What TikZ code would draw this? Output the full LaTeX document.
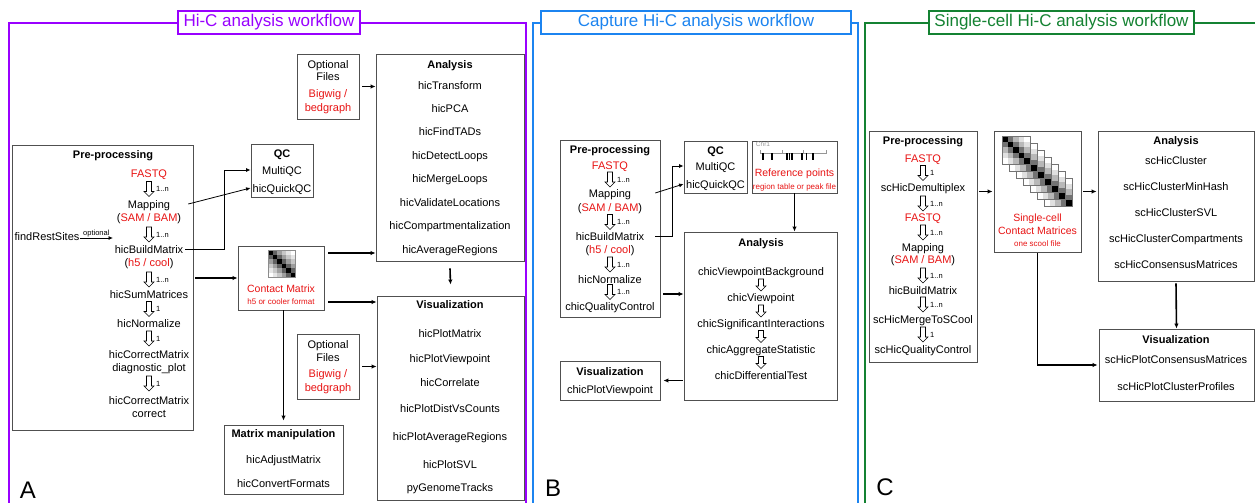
\documentclass[tikz,border=0pt]{standalone}
\usepackage{fontspec}
\setmainfont{Liberation Sans}
\usepackage{tikz}
\usetikzlibrary{arrows.meta,positioning,fit,calc}
\definecolor{hicpurple}{RGB}{153,0,255}
\definecolor{capblue}{RGB}{28,132,240}
\definecolor{scgreen}{RGB}{20,130,50}
\definecolor{fileRed}{RGB}{232,20,20}
\definecolor{boxgray}{RGB}{80,80,80}
\definecolor{chrgray}{RGB}{150,150,150}

\newcommand{\fsz}[1]{\fontsize{#1}{#1}\selectfont}

\begin{document}
\begin{tikzpicture}[x=1pt, y=-1pt,
  txt/.style={font=\fsz{11}, inner sep=0pt, text height=8pt, text depth=0pt},
  hd/.style={txt, font=\fsz{11}\bfseries},
  ftxt/.style={txt, text=fileRed},
  small/.style={font=\fsz{8}, inner sep=0pt, text height=5.8pt, text depth=0pt, text=fileRed},
  cnt/.style={font=\fsz{7.5}, inner sep=0pt, text height=5.4pt, text depth=0pt},
  box/.style={draw=boxgray, line width=0.9pt, inner sep=0pt},
  title/.style={draw=#1, text=#1, fill=white, line width=1.6pt, font=\fsz{17},
                inner sep=0pt, minimum height=23pt},
  frame/.style={line width=1.6pt},
  % hollow step arrow, #1 = half of its length
  pics/hollow/.style={code={
    \draw[fill=white, line width=0.6pt] (-2.5,-#1) -- (2.5,-#1) -- (2.5,#1-5) -- (5,#1-5)
      -- (0,#1) -- (-5,#1-5) -- (-2.5,#1-5) -- cycle;}},
  conn/.style={-{Latex[length=4.5pt,width=4pt]}, line width=0.8pt},
  heavy/.style={-{Latex[length=5pt,width=4.5pt]}, line width=1.6pt},
  panel/.style={font=\fsz{24}, inner sep=0pt}
]
\fill[white] (0,0) rectangle (1255,503);
\useasboundingbox (0,0) rectangle (1255,503);

%% ---------------- A: Hi-C ----------------
\draw[frame, hicpurple] (9,506) -- (9,23) -- (526,23) -- (526,506);
\node[title=hicpurple, minimum width=182pt] (titleA) at (269,22.5) {Hi-C analysis workflow};

\node[box, fit={(12,145) (193,430)}] (preA) {};
\node[hd] (preAh) at (113,154) {Pre-processing};
\node[ftxt] (fqA) at (149,173) {FASTQ};
\node[txt] (mapA) at (149,204) {Mapping};
\node[txt] (samA) at (149,217) {(\textcolor{fileRed}{SAM / BAM})};
\node[txt] (bmA) at (149,249) {hicBuildMatrix};
\node[txt] (coolA) at (149,262) {(\textcolor{fileRed}{h5 / cool})};
\node[txt] (sumA) at (149,294) {hicSumMatrices};
\node[txt] (normA) at (149,323) {hicNormalize};
\node[txt] (cmdA) at (149,354) {hicCorrectMatrix};
\node[txt] (diagA) at (149,367) {diagnostic\_plot};
\node[txt] (cmcA) at (149,400) {hicCorrectMatrix};
\node[txt] (corrA) at (149,413) {correct};
\foreach \y/\lab [count=\i] in {189/1..n,234.5/1..n,279.5/1..n,309/1,338.5/1,383.5/1} {
  \pic at (149,\y) {hollow=7.5};
  \node[cnt, anchor=west] (nA\i) at (156,\y) {\lab};
}
\node[txt] (frs) at (47,236) {findRestSites};
\coordinate (frsEnd) at (113,238);
\draw[conn] (frs.east |- frsEnd) -- node[cnt, above=2pt] (optlbl) {optional} (frsEnd);

% QC
\node[box, fit={(251,144) (313,197)}] (qcA) {};
\node[hd] (qcAh) at (282,153) {QC};
\node[txt] (multA) at (282,170) {MultiQC};
\node[txt] (quickA) at (282,188) {hicQuickQC};
\draw[conn] ([xshift=18pt]mapA.east) -- (qcA.west |- quickA);
\draw[conn] ([xshift=2pt]bmA.east) -| ([xshift=-26pt]qcA.west |- multA) -- (qcA.west |- multA);

% contact matrix
\node[box, fit={(238,246) (324,310)}] (cmA) {};
\begin{scope}[shift={(268,250)}]
  \foreach \i in {0,...,5} \foreach \j in {0,...,5} {
    \pgfmathtruncatemacro\d{abs(\i-\j)}
    \pgfmathtruncatemacro\s{{100,62,38,22,10,0}[\d]}
    \fill[black!\s] (\i*4.5,\j*4.5) rectangle ++(4.5,4.5);
  }
  \draw[black!45, line width=0.4pt] (0,0) rectangle (27,27);
\end{scope}
\node[txt, font=\fsz{10.5}, text=fileRed] (cmAt) at (281,288) {Contact Matrix};
\node[small] (cmAf) at (281,302) {h5 or cooler format};

% analysis and visualization
\node[box, fit={(376,54) (524,261)}] (anaA) {};
\node[hd] (anaAh) at (450,64) {Analysis};
\foreach \t/\y [count=\i] in {hicTransform/85,hicPCA/108.4,hicFindTADs/131.9,
    hicDetectLoops/155.3,hicMergeLoops/178.7,hicValidateLocations/202.1,
    hicCompartmentalization/225.6,hicAverageRegions/249}
  \node[txt] (anaA\i) at (450,\y) {\t};

\node[box, fit={(377,296) (524,500)}] (visA) {};
\node[hd] (visAh) at (450,304) {Visualization};
\foreach \t/\y [count=\i] in {hicPlotMatrix/333,hicPlotViewpoint/358,hicCorrelate/382,
    hicPlotDistVsCounts/408,hicPlotAverageRegions/436,hicPlotSVL/464,pyGenomeTracks/487}
  \node[txt] (visA\i) at (450,\y) {\t};

% optional inputs
\node[box, fit={(297,54) (359,119)}] (optA1) {};
\node[txt] (optA1a) at (328,64) {Optional};
\node[txt] (optA1b) at (328,77) {Files};
\node[ftxt] (optA1c) at (328,93) {Bigwig /};
\node[ftxt] (optA1d) at (328,107) {bedgraph};
\node[box, fit={(297,334) (359,399)}] (optA2) {};
\node[txt] (optA2a) at (328,344) {Optional};
\node[txt] (optA2b) at (328,357) {Files};
\node[ftxt] (optA2c) at (328,373.5) {Bigwig /};
\node[ftxt] (optA2d) at (328,387) {bedgraph};

% matrix manipulation
\node[box, fit={(224,425) (343,494)}] (mmA) {};
\node[hd] (mmAh) at (283.5,433.6) {Matrix manipulation};
\node[txt] (mmA1) at (283.5,459) {hicAdjustMatrix};
\node[txt] (mmA2) at (283.5,483) {hicConvertFormats};

\draw[heavy] ([xshift=2pt]preA.east |- cmA.west) -- (cmA.west);
\draw[heavy] ([xshift=4pt,yshift=25pt]cmA.east) -- ([yshift=25pt]cmA.east -| anaA.west);
\draw[heavy] ([xshift=4pt,yshift=-24pt]cmA.east) -- ([yshift=-24pt]cmA.east -| visA.west);
\draw[heavy] (cmA.south -| mmA.north) -- ([yshift=4pt]mmA.north);
\draw[heavy] ([yshift=-7pt]anaA.south) -- ([yshift=11pt]visA.north);
\draw[heavy] ([xshift=3pt]optA1.east) -- (optA1.east -| anaA.west);
\draw[heavy] ([xshift=3pt]optA2.east) -- (optA2.east -| visA.west);

\node[panel] (labA) at (28,490) {A};

%% ---------------- B: Capture Hi-C ----------------
\draw[frame, capblue] (533,506) -- (533,23) -- (858,23) -- (858,506);
\node[title=capblue, minimum width=310pt] (titleB) at (696,22.5) {Capture Hi-C analysis workflow};

\node[box, fit={(560,140) (660,317)}] (preB) {};
\node[hd] (preBh) at (610,149) {Pre-processing};
\node[ftxt] (fqB) at (610,165) {FASTQ};
\node[txt] (mapB) at (610,193) {Mapping};
\node[txt] (samB) at (610,207) {(\textcolor{fileRed}{SAM / BAM})};
\node[txt] (bmB) at (610,236) {hicBuildMatrix};
\node[txt] (coolB) at (610,249) {(\textcolor{fileRed}{h5 / cool})};
\node[txt] (normB) at (610,279) {hicNormalize};
\node[txt] (qcctlB) at (610,306) {chicQualityControl};
\foreach \y [count=\i] in {179.5,222,264.5,292} {
  \pic at (610,\y) {hollow=7.5};
  \node[cnt, anchor=west] (nB\i) at (617,\y) {1..n};
}

\node[box, fit={(684,141) (747,193)}] (qcB) {};
\node[hd] (qcBh) at (715.5,150) {QC};
\node[txt] (multB) at (715.5,166) {MultiQC};
\node[txt] (quickB) at (715.5,184) {hicQuickQC};
\draw[conn] ([xshift=24pt]mapB.east) -- (qcB.west |- quickB);
\draw[conn] ([xshift=11pt]bmB.east) -| ([xshift=-11pt]qcB.west |- multB) -- (qcB.west |- multB);

% reference points
\node[box, fit={(752,141) (837,193)}] (refB) {};
\node[font=\fsz{6.5}, text=chrgray, inner sep=0pt] (chrB) at (763,144) {Chr1};
\draw[chrgray, line width=1pt] (760,150) -- (760,153) -- (826,153) -- (826,150)
  (782,150) -- (782,153) (803,150) -- (803,153);
\foreach \x in {763,772,787,789.5,792,802,806.5,813}
  \draw[black, line width=1.3pt] (\x,153) -- (\x,160);
\node[txt, font=\fsz{10.5}, text=fileRed] (refBt) at (794.5,172) {Reference points};
\node[small] (refBf) at (794.5,187) {region table or peak file};

\node[box, fit={(684,232) (837,400)}] (anaB) {};
\node[hd] (anaBh) at (761,242) {Analysis};
\foreach \t/\y [count=\i] in {chicViewpointBackground/271,chicViewpoint/297,
    chicSignificantInteractions/323,chicAggregateStatistic/349,chicDifferentialTest/375}
  \node[txt] (anaB\i) at (761,\y) {\t};
\foreach \y in {285,311,336.5,362.5}
  \pic at (761,\y) {hollow=6};

\node[box, fit={(560,361) (660,400)}] (visB) {};
\node[hd] (visBh) at (610,371) {Visualization};
\node[txt] (visB1) at (610,389) {chicPlotViewpoint};

\draw[heavy] (refB.south) -- (refB.south |- anaB.north);
\draw[heavy] ([xshift=3pt,yshift=-65.5pt]preB.east) -- ([yshift=-65.5pt]preB.east -| anaB.west);
\draw[heavy] ([xshift=-1pt]anaB.west |- visB.east) -- ([xshift=3pt]visB.east);

\node[panel] (labB) at (553,488) {B};

%% ---------------- C: single-cell Hi-C ----------------
\draw[frame, scgreen] (865,506) -- (865,23) -- (1258,23);
\node[title=scgreen, minimum width=265pt] (titleC) at (1061.5,22.5) {Single-cell Hi-C analysis workflow};

\node[box, fit={(869,131) (977,362)}] (preC) {};
\node[hd] (preCh) at (923,140) {Pre-processing};
\node[ftxt] (fqC1) at (923,158) {FASTQ};
\node[txt] (demC) at (923,187) {scHicDemultiplex};
\node[ftxt] (fqC2) at (923,217) {FASTQ};
\node[txt] (mapC) at (923,247) {Mapping};
\node[txt] (samC) at (923,259) {(\textcolor{fileRed}{SAM / BAM})};
\node[txt] (bmC) at (923,290) {hicBuildMatrix};
\node[txt] (mrgC) at (923,319) {scHicMergeToSCool};
\node[txt] (qcC) at (923,349) {scHicQualityControl};
\foreach \y/\lab [count=\i] in {173/1,203.5/1..n,232.5/1..n,275.5/1..n,304.5/1..n,334.5/1} {
  \pic at (923,\y) {hollow=7.5};
  \node[cnt, anchor=west] (nC\i) at (930,\y) {\lab};
}

% stack of cell matrices
\node[box, fit={(994,131) (1081,252)}] (scC) {};
\foreach \k in {6,5,...,0} {
  \begin{scope}[shift={(1002+7*\k,136+7*\k)}]
    \fill[white] (0,0) rectangle (28,28);
    \foreach \i in {0,...,4} \foreach \j in {0,...,4} {
      \pgfmathtruncatemacro\d{abs(\i-\j)}
      \pgfmathtruncatemacro\s{{100,55,28,12,0}[\d]}
      \fill[black!\s] (\i*5.6,\j*5.6) rectangle ++(5.6,5.6);
    }
    \draw[black!55, line width=0.6pt] (0,0) rectangle (28,28);
  \end{scope}
}
\node[txt, font=\fsz{10.5}, text=fileRed] (scCt1) at (1037.5,217) {Single-cell};
\node[txt, font=\fsz{10.5}, text=fileRed] (scCt2) at (1037.5,230) {Contact Matrices};
\node[small] (scCf) at (1037.5,244) {one scool file};

\node[box, fit={(1098,131) (1254,281)}] (anaC) {};
\node[hd] (anaCh) at (1176,140) {Analysis};
\foreach \t/\y [count=\i] in {scHicCluster/160,scHicClusterMinHash/186,scHicClusterSVL/212,
    scHicClusterCompartments/238,scHicConsensusMatrices/264}
  \node[txt] (anaC\i) at (1176,\y) {\t};

\node[box, fit={(1099,329) (1254,401)}] (visC) {};
\node[hd] (visCh) at (1176,339) {Visualization};
\node[txt] (visC1) at (1176,359) {scHicPlotConsensusMatrices};
\node[txt] (visC2) at (1176,386) {scHicPlotClusterProfiles};

\draw[heavy] ([xshift=2pt]preC.east |- scC.west) -- ([xshift=-1pt]scC.west);
\draw[heavy] ([xshift=2pt]scC.east) -- ([xshift=-1pt]scC.east -| anaC.west);
\draw[heavy] ([yshift=-2pt]anaC.south) -- (visC.north);
\draw[heavy] ([yshift=-1pt]scC.south) |- ([xshift=-1pt]visC.west);

\node[panel] (labC) at (885,487) {C};
\end{tikzpicture}
\end{document}
